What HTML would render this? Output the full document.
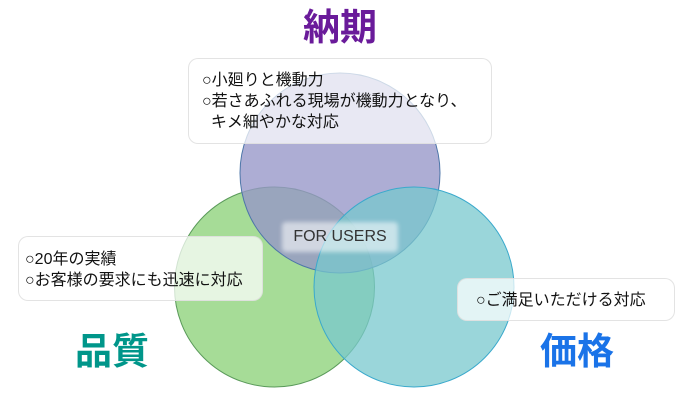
<!DOCTYPE html>
<html><head><meta charset="utf-8"><style>
body{margin:0;width:690px;height:400px;background:#fff;position:relative;overflow:hidden;font-family:"Liberation Sans","Noto Sans CJK JP",sans-serif}
.t{position:absolute;font-weight:bold;font-size:37px;line-height:1}
.box{position:absolute;background:rgba(255,255,255,0.72);border:1px solid rgba(220,220,220,0.8);border-radius:10px;font-size:16px;color:#111;box-sizing:border-box;line-height:21px;white-space:nowrap}
</style></head><body>
<svg width="690" height="400" style="position:absolute;left:0;top:0">
<ellipse cx="274.5" cy="287" rx="100" ry="100" fill="#a6dc97" stroke="#5a9a5a" stroke-width="1"/>
<ellipse cx="340" cy="173" rx="100" ry="100" fill="rgba(150,150,200,0.78)" stroke="#4d76a8" stroke-width="1"/>
<ellipse cx="414" cy="287" rx="100" ry="100" fill="rgba(120,200,205,0.75)" stroke="#3aa9cc" stroke-width="1"/>
</svg>
<div class="t" style="left:303px;top:9px;color:#6a1b9a">納期</div>
<div class="t" style="left:75px;top:333px;color:#00968a">品質</div>
<div class="t" style="left:540px;top:333px;color:#1a73e8">価格</div>
<div class="box" style="left:188px;top:58px;width:304px;height:86px;padding:11px 0 0 13px">○小廻りと機動力<br>○若さあふれる現場が機動力となり、<br>&nbsp;&nbsp;キメ細やかな対応</div>
<div class="box" style="left:18px;top:236px;width:245px;height:65px;padding:12px 0 0 6px">○20年の実績<br>○お客様の要求にも迅速に対応</div>
<div class="box" style="left:457px;top:278px;width:218px;height:43px;padding:11px 0 0 18px">○ご満足いただける対応</div>
<div style="position:absolute;left:282px;top:222px;width:116px;height:30px;background:rgba(255,255,255,0.55);filter:blur(2px);border-radius:4px"></div>
<div style="position:absolute;left:282px;top:222px;width:116px;height:30px;line-height:30px;text-align:center;font-size:16px;color:#333">FOR USERS</div>
</body></html>
